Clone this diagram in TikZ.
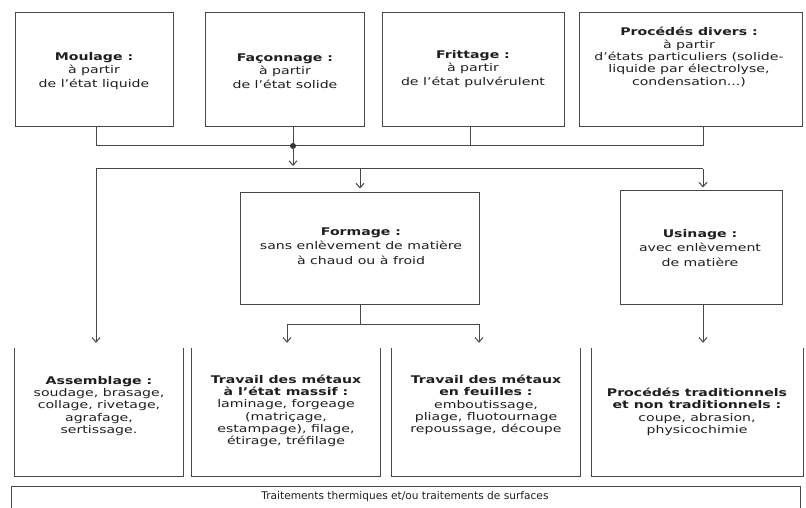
\documentclass[tikz,border=0pt]{standalone}
\usepackage{fontspec}
\setmainfont{DejaVu Sans}[FakeStretch=1.33]
\newfontfamily\bandfont{DejaVu Sans}
\usetikzlibrary{arrows.meta}
\begin{document}
\begin{tikzpicture}[x=1pt,y=-1pt,
  font=\fontsize{10.6}{13.5}\selectfont,
  boxnode/.style={draw=black!72, line width=1pt, inner sep=0pt},
  openbox/.style={inner sep=0pt},
  txt/.style={align=center, inner sep=0pt, text=black!88},
  tightx/.style={font=\fontsize{10.6}{12.3}\selectfont},
  loosex/.style={font=\fontsize{10.6}{14.5}\selectfont},
  wire/.style={draw=black!72, line width=1pt},
  arr/.style={wire, -{Straight Barb[length=4.5pt,width=8pt,line width=1pt]}}]
\useasboundingbox (0,0) rectangle (806,508);
\fill[white] (0,0) rectangle (806,508);

% top boxes
\node[boxnode, minimum width=158pt, minimum height=114pt] (mo) at (94,70) {};
\node[boxnode, minimum width=159pt, minimum height=114pt] (fa) at (284.5,70) {};
\node[boxnode, minimum width=182pt, minimum height=114pt] (fr) at (473,70) {};
\node[boxnode, minimum width=223pt, minimum height=114pt] (pd) at (690.5,70) {};

\node[txt] (tmo) at (94,71) {\textbf{Moulage :}\\à partir\\de l'état liquide};
\node[txt] (tfa) at (285,71) {\textbf{Façonnage :}\\à partir\\de l'état solide};
\node[txt] (tfr) at (473,69) {\textbf{Frittage :}\\à partir\\de l'état pulvérulent};
\node[txt, tightx] (tpd) at (689,57) {\textbf{Procédés divers :}\\à partir\\d'états particuliers (solide-\\liquide par électrolyse,\\condensation...)};

% middle boxes
\node[boxnode, minimum width=239pt, minimum height=112pt] (fo) at (360,248) {};
\node[boxnode, minimum width=162pt, minimum height=114pt] (us) at (701,247) {};
\node[txt, loosex] (tfo) at (361,246) {\textbf{Formage :}\\sans enlèvement de matière\\à chaud ou à froid};
\node[txt, loosex] (tus) at (700,248) {\textbf{Usinage :}\\avec enlèvement\\de matière};

% bottom boxes (open top)
\node[openbox, minimum width=168pt, minimum height=128pt] (as) at (99,412) {};
\node[openbox, minimum width=188pt, minimum height=128pt] (tm) at (286,412) {};
\node[openbox, minimum width=188pt, minimum height=128pt] (tf) at (486,412) {};
\node[openbox, minimum width=211pt, minimum height=128pt] (pt) at (697.5,412) {};
\foreach \b in {as,tm,tf,pt}
  \draw[wire] (\b.north west) -- (\b.south west) -- (\b.south east) -- (\b.north east);

\node[txt, tightx] (tas) at (99,406) {\textbf{Assemblage :}\\soudage, brasage,\\collage, rivetage,\\agrafage,\\sertissage.};
\node[txt, tightx] (ttm) at (286,411) {\textbf{Travail des métaux}\\\textbf{à l'état massif :}\\laminage, forgeage\\(matriçage,\\estampage), filage,\\étirage, tréfilage};
\node[txt, tightx] (ttf) at (486,405) {\textbf{Travail des métaux}\\\textbf{en feuilles :}\\emboutissage,\\pliage, fluotournage\\repoussage, découpe};
\node[txt, tightx] (tpt) at (697,412) {\textbf{Procédés traditionnels}\\\textbf{et non traditionnels :}\\coupe, abrasion,\\physicochimie};

% last band
\node[openbox, minimum width=788pt, minimum height=22pt] (tr) at (406,498) {};
\draw[wire] (tr.south west) -- (tr.north west) -- (tr.north east) -- (tr.south east);
\node[txt, font=\bandfont\fontsize{10.6}{12}\selectfont] (ttr) at (405,497) {Traitements thermiques et/ou traitements de surfaces};

% connectors top
\coordinate (t1) at (96,146);
\coordinate (t2) at (293,146);
\coordinate (t3) at (470,146);
\coordinate (t4) at (703,146);
\coordinate (a0) at (293,166);
\coordinate (l1) at (96,169);
\coordinate (l2) at (360,169);
\coordinate (l4) at (703,169);
\draw[wire] (mo.south -| t1) -- (t1) -- (t4) -- (pd.south -| t4);
\draw[wire] (fa.south -| t2) -- (t2);
\draw[wire] (fr.south -| t3) -- (t3);
\fill[black!80] (t2) circle (3pt);
\draw[arr] (t2) -- (a0);
\draw[wire] (l1) -- (l4);
\draw[arr, shorten >=5pt] (l1) -- (as.north -| l1);
\draw[arr, shorten >=3pt] (l2) -- (fo.north);
\draw[arr, shorten >=2pt] (l4) -- (us.north -| l4);

% connectors from Formage
\coordinate (b0) at (360,324);
\coordinate (b1) at (287,324);
\coordinate (b2) at (479,324);
\draw[wire] (fo.south) -- (b0);
\draw[wire] (b1) -- (b2);
\draw[arr, shorten >=5pt] (b1) -- (tm.north -| b1);
\draw[arr, shorten >=5pt] (b2) -- (tf.north -| b2);

% from Usinage
\draw[arr, shorten >=5pt] (us.south -| l4) -- (pt.north -| l4);
\end{tikzpicture}
\end{document}
